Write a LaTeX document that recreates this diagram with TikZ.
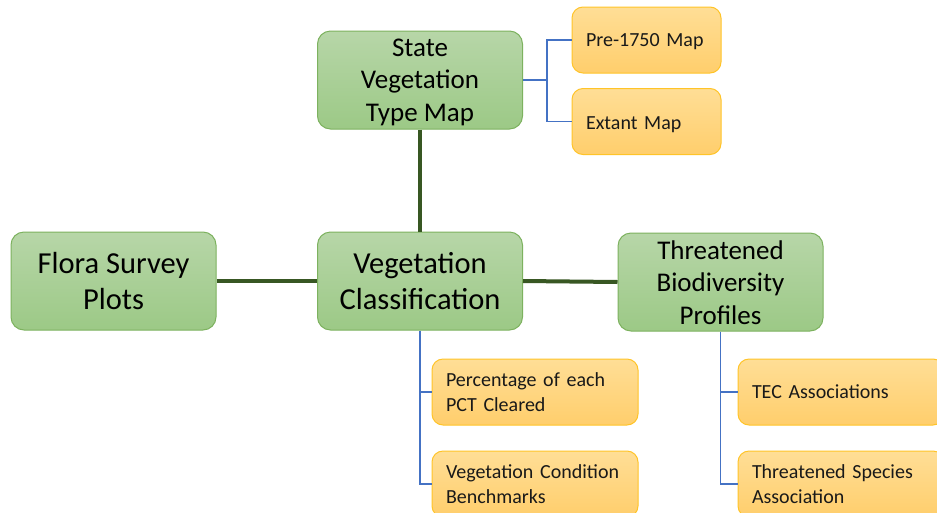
\documentclass[tikz,border=0pt]{standalone}
\usepackage{fontspec}
\setmainfont{Carlito}
\definecolor{gTop}{RGB}{183,214,168}
\definecolor{gBot}{RGB}{156,201,134}
\definecolor{gBorder}{RGB}{125,178,95}
\definecolor{oTop}{RGB}{255,222,150}
\definecolor{oBot}{RGB}{255,206,108}
\definecolor{oBorder}{RGB}{255,196,40}
\definecolor{darkline}{RGB}{56,87,35}
\definecolor{blueline}{RGB}{68,114,196}
\tikzset{
  greenbox/.style={draw=gBorder, line width=1pt, rounded corners=13pt,
    top color=gTop, bottom color=gBot, minimum width=205pt, minimum height=98pt,
    align=center, text=black, inner sep=0pt},
  bigtxt/.style={font=\fontsize{30.5}{36}\selectfont},
  midtxt/.style={font=\fontsize{27}{32.5}\selectfont},
  orangebox/.style={draw=oBorder, line width=1pt, rounded corners=11pt,
    top color=oTop, bottom color=oBot, minimum height=66pt,
    align=left, text=black!90, inner xsep=14pt, inner ysep=0pt,
    font=\fontsize{20}{24.5}\selectfont},
  thickline/.style={draw=darkline, line width=4pt},
  thinline/.style={draw=blueline, line width=1.2pt}
}
\begin{document}
\begin{tikzpicture}[x=1pt,y=-1pt]
\useasboundingbox (0,0) rectangle (937,512);
\fill[white] (0,0) rectangle (937,512);
\clip (0,0) rectangle (937,512);
% green boxes
\node[greenbox] (svtm) at (420,80) {};
\node[midtxt, align=center] (svtmt) at (420,82) {State\\Vegetation\\Type Map};
\node[greenbox, bigtxt] (fsp) at (113.5,281) {Flora Survey\\Plots};
\node[greenbox, bigtxt] (vc) at (420,281) {Vegetation\\Classification};
\node[greenbox] (tbp) at (720.5,282) {};
\node[midtxt, align=center] (tbpt) at (720.5,282.5) {Threatened\\Biodiversity\\Profiles};
% orange boxes
\node[orangebox, text width=121pt] (pre) at (646.5,40) {\raisebox{-2pt}[\height][\depth]{Pre-1750 Map}};
\node[orangebox, text width=121pt] (ext) at (646.5,121.5) {\raisebox{-3pt}[\height][\depth]{Extant Map}};
\node[orangebox, text width=178pt] (pct) at (535,392) {Percentage of each\\PCT Cleared};
\node[orangebox, text width=178pt] (vcb) at (535,484) {Vegetation Condition\\Benchmarks};
\node[orangebox, text width=178pt] (tec) at (841,392) {TEC Associations};
\node[orangebox, text width=178pt] (tsa) at (841,484) {Threatened Species\\Association};
% thick connectors
\draw[thickline] (svtm.south) -- (vc.north);
\draw[thickline] (fsp.east) -- (vc.west);
\draw[thickline] (vc.east) -- (tbp.west);
% thin connectors
\draw[thinline] (svtm.east) -- ++(24,0) coordinate (j1);
\draw[thinline] (j1) |- (pre.west);
\draw[thinline] (j1) |- (ext.west);
\draw[thinline] (vc.south) |- (pct.west);
\draw[thinline] (vc.south) |- (vcb.west);
\draw[thinline] (tbp.south) |- (tec.west);
\draw[thinline] (tbp.south) |- (tsa.west);
\end{tikzpicture}
\end{document}
